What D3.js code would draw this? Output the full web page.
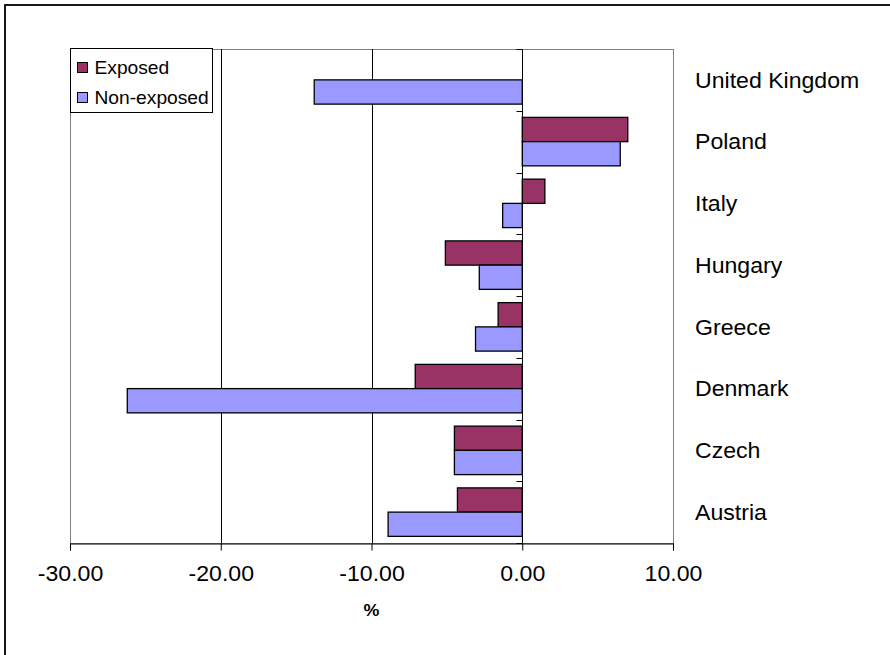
<!DOCTYPE html>
<html>
<head>
<meta charset="utf-8">
<script src="https://cdn.jsdelivr.net/npm/d3@7"></script>
<style>
  html, body { margin: 0; padding: 0; background: #fff; }
  svg { display: block; font-family: "Liberation Sans", Arial, sans-serif; }
</style>
</head>
<body>
<svg id="chart" width="890" height="655"></svg>
<script>
// Percentage change by country, two groups
const countries = ["United Kingdom", "Poland", "Italy", "Hungary", "Greece", "Denmark", "Czech", "Austria"];
const seriesNames = ["Exposed", "Non-exposed"];
const exposed    = [null, 7.0, 1.5, -5.1, -1.6, -7.1, -4.5, -4.3];
const nonExposed = [-13.8, 6.5, -1.3, -2.85, -3.1, -26.2, -4.5, -8.9];
const xTicks = [-30, -20, -10, 0, 10];
const seriesColors = ["#993366", "#9999FF"];

const svg = d3.select("#chart");
const plot = { left: 70, right: 673, top: 49, bottom: 543 };
const stretch = "scale(1.05,1)";   // text is drawn slightly wide

// outer chart frame (only top/left edges fall inside the view)
svg.append("rect")
  .attr("x", 5).attr("y", 5).attr("width", 1000).attr("height", 1000)
  .attr("fill", "#fff").attr("stroke", "#000").attr("stroke-width", 1.8);

const x = d3.scaleLinear().domain([-30, 10]).range([plot.left, plot.right]);
const y = d3.scaleBand().domain(countries).range([plot.top, plot.bottom]).paddingInner(0).paddingOuter(0);
const groupFrac = 0.785;
const inner = d3.scaleBand().domain(seriesNames)
  .range([0, y.bandwidth() * groupFrac]);

// plot area border
svg.append("rect")
  .attr("x", plot.left + 0.5).attr("y", plot.top + 0.5)
  .attr("width", plot.right - plot.left).attr("height", plot.bottom - plot.top)
  .attr("fill", "#fff").attr("stroke", "#808080").attr("stroke-width", 1);

// vertical gridlines
svg.append("g").selectAll("line")
  .data(xTicks.filter(t => t > -30 && t < 10 && t !== 0))
  .join("line")
  .attr("x1", d => Math.round(x(d)) + 0.5).attr("x2", d => Math.round(x(d)) + 0.5)
  .attr("y1", plot.top).attr("y2", plot.bottom)
  .attr("stroke", "#000").attr("stroke-width", 1);

// bars
const rows = countries.map((c, i) => ({ country: c, values: [exposed[i], nonExposed[i]] }));
const barG = svg.append("g");
rows.forEach(r => {
  const y0 = y(r.country) + y.bandwidth() * (1 - groupFrac) / 2;
  r.values.forEach((v, j) => {
    if (v === null) return;
    const name = seriesNames[j];
    barG.append("rect")
      .attr("x", Math.min(x(0), x(v)))
      .attr("y", y0 + inner(name))
      .attr("width", Math.abs(x(v) - x(0)))
      .attr("height", inner.bandwidth())
      .attr("fill", seriesColors[j])
      .attr("stroke", "#000").attr("stroke-width", 1.3);
  });
});

// category axis at zero
const zx = Math.round(x(0)) + 0.5;
svg.append("line")
  .attr("x1", zx).attr("x2", zx).attr("y1", plot.top).attr("y2", plot.bottom)
  .attr("stroke", "#000").attr("stroke-width", 1);
const bounds = d3.range(countries.length + 1).map(i => plot.top + i * y.step());
svg.append("g").selectAll("line").data(bounds).join("line")
  .attr("x1", zx - 6).attr("x2", zx)
  .attr("y1", d => Math.round(d) + 0.5).attr("y2", d => Math.round(d) + 0.5)
  .attr("stroke", "#000");

// category labels to the right of the plot
svg.append("g").selectAll("text").data(countries).join("text")
  .attr("transform", d => `translate(695,${y(d) + y.bandwidth() / 2}) ${stretch}`)
  .attr("dy", "0.35em")
  .attr("font-size", 22)
  .attr("fill", "#000")
  .text(d => d);

// value axis at bottom
const fmt = d3.format(".2f");
const xAxis = d3.axisBottom(x).tickValues(xTicks).tickSize(7)
  .tickFormat(d => fmt(d).replace("\u2212", "-"));
const ax = svg.append("g").attr("transform", `translate(0,${plot.bottom + 0.5})`).call(xAxis);
ax.select(".domain").attr("stroke", "#000");
ax.selectAll(".tick line").attr("stroke", "#000");
ax.selectAll(".tick text")
  .attr("font-size", 22).attr("font-family", "Liberation Sans, Arial, sans-serif")
  .attr("fill", "#000").attr("y", 0).attr("dy", "0.35em")
  .attr("transform", `translate(0,30) ${stretch}`);

svg.append("text")
  .attr("transform", `translate(${x(-10)},610) ${stretch}`).attr("dy", "0.35em")
  .attr("text-anchor", "middle").attr("font-size", 17).attr("font-weight", "bold")
  .text("%");

// legend
const lg = svg.append("g").attr("transform", "translate(70.5,48.5)");
lg.append("rect").attr("width", 142).attr("height", 64)
  .attr("fill", "#fff").attr("stroke", "#000").attr("stroke-width", 1);
seriesNames.forEach((n, i) => {
  const cy = 19 + i * 30;
  lg.append("rect").attr("x", 7).attr("y", cy - 5).attr("width", 10).attr("height", 10)
    .attr("fill", seriesColors[i]).attr("stroke", "#000");
  lg.append("text").attr("transform", `translate(24,${cy}) ${stretch}`).attr("dy", "0.35em")
    .attr("font-size", 18.3).text(n);
});
</script>
</body>
</html>
